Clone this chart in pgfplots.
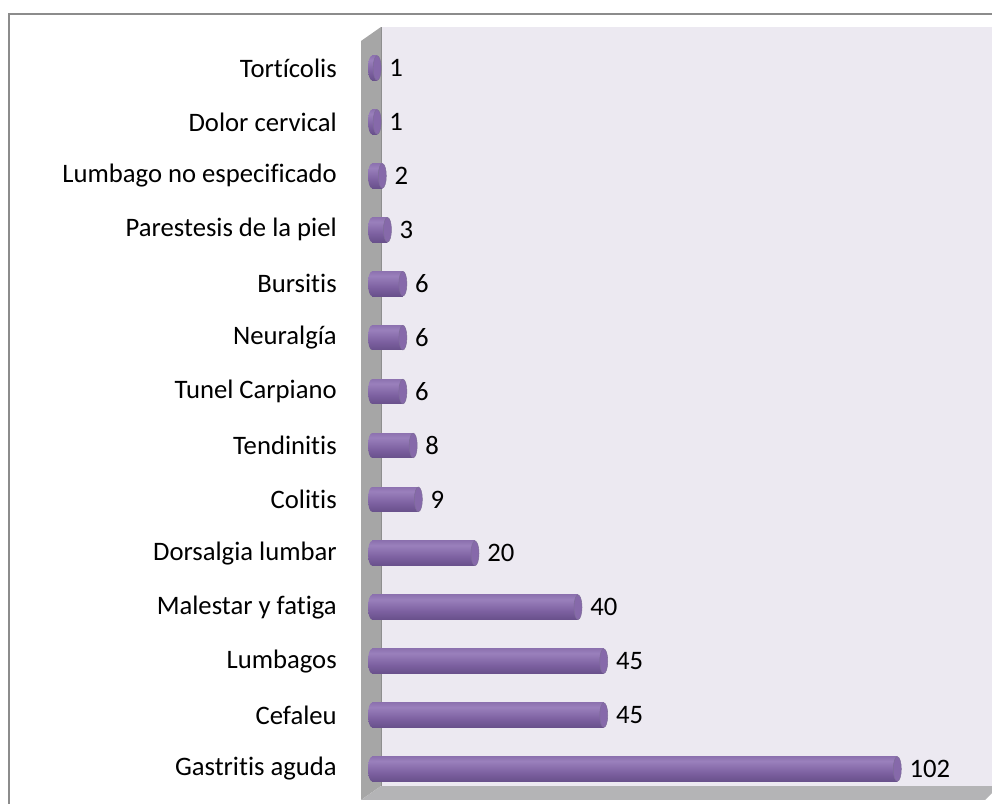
\documentclass[border=0pt]{standalone}
\usepackage{pgfplots}
\pgfplotsset{compat=1.18}
\usepackage{pgfplotstable}
\usepackage{fontspec}
\setmainfont{Carlito}[Ligatures=NoCommon]
\usetikzlibrary{shapes.geometric}

\definecolor{wallback}{HTML}{ECE9F1}
\definecolor{wallside}{HTML}{A6A6A6}
\definecolor{wallsideedge}{HTML}{8E8E8E}
\definecolor{wallfloor}{HTML}{B4B4B6}
\definecolor{frameline}{HTML}{8C8C8C}
\definecolor{capface}{HTML}{8669AA}
\definecolor{capedge}{HTML}{5E4880}
\definecolor{cyldark}{HTML}{4B3A66}
\definecolor{cylmid}{HTML}{7C60A0}
\definecolor{cyllight}{HTML}{9A80BC}

% cylinder look of the bars: dark edges, light band above the centre
\pgfdeclareverticalshading{cyl}{100bp}{%
  color(0bp)=(cyldark);
  color(16bp)=(capedge);
  color(42bp)=(cylmid);
  color(66bp)=(cyllight);
  color(87bp)=(cylmid);
  color(100bp)=(capedge)}

% index 0 is the bottom row
\pgfplotstableread[col sep=comma]{
idx,val
0,102
1,45
2,45
3,40
4,20
5,9
6,8
7,6
8,6
9,6
10,3
11,2
12,1
13,1
}\diagnosticos

\newcommand\lblfont{\fontsize{20}{24}\selectfont}

\begin{document}
\begin{tikzpicture}
\path[use as bounding box] (0,0) rectangle (744pt,602.25pt);
\begin{scope}
  \clip (0,0) rectangle (744pt,602.25pt);
  \draw[frameline, line width=1.2pt] (6.75pt,-20pt) rectangle (780pt,591.75pt);
\end{scope}
\begin{axis}[
  at={(270.75pt,2.25pt)}, anchor=south west,
  scale only axis, width=473.25pt, height=579.75pt,
  xmin=-2.136, xmax=120.39,
  ymin=-0.575, ymax=13.761,
  clip=false,
  axis line style={draw=none},
  xtick=\empty,
  ytick={0,...,13},
  yticklabels={Gastritis aguda,Cefaleu,Lumbagos,Malestar y fatiga,Dorsalgia lumbar,Colitis,Tendinitis,Tunel Carpiano,Neuralgía,Bursitis,Parestesis de la piel,Lumbago no especificado,Dolor cervical,Tortícolis},
  ytick style={draw=none},
  yticklabel style={font=\lblfont, inner sep=0pt, xshift=-18pt, anchor=east},
  /pgf/number format/assume math mode=true,
]
% walls and floor
\fill[wallback] (rel axis cs:0.0317,0.0181) rectangle (rel axis cs:1,1);
\fill[wallside] (rel axis cs:0,0) -- (rel axis cs:0,0.9819) -- (rel axis cs:0.0317,1) -- (rel axis cs:0.0317,0.0181) -- cycle;
\draw[wallsideedge, line width=0.6pt] (rel axis cs:0.0317,0.0181) -- (rel axis cs:0.0317,1);
\fill[wallfloor] (rel axis cs:0,0) -- (rel axis cs:0.0317,0.0181) -- (rel axis cs:1,0.0181) -- (rel axis cs:1,0.009) -- (rel axis cs:0.989,0) -- cycle;

% rounded left ends of the cylinders
\addplot[draw=none, mark=none, forget plot,
  nodes near coords={},
  every node near coord/.append style={ellipse, shading=cyl, draw=none,
    minimum width=6pt, minimum height=18.5pt, inner sep=0pt, anchor=center}]
  table[x expr=0, y=idx] {\diagnosticos};

% cylinder bodies, one plot per row so that each bar gets its own shading
\pgfplotsinvokeforeach{0,...,13}{
  \addplot[xbar, bar shift=0pt, bar width=18.5pt, draw=none, shading=cyl, forget plot,
    y filter/.expression={abs(y-#1)<0.3 ? y : nan},
    nodes near coords,
    every node near coord/.append style={font=\lblfont, black,
      anchor=west, inner sep=0pt, xshift=9pt}]
    table[x=val, y=idx] {\diagnosticos};
}

% end faces of the cylinders
\addplot[draw=none, mark=none, forget plot,
  nodes near coords={},
  every node near coord/.append style={ellipse, fill=capface, draw=capedge!80, line width=0.4pt,
    minimum width=6pt, minimum height=18.5pt, inner sep=0pt, anchor=center}]
  table[x=val, y=idx] {\diagnosticos};
\end{axis}
\end{tikzpicture}
\end{document}
